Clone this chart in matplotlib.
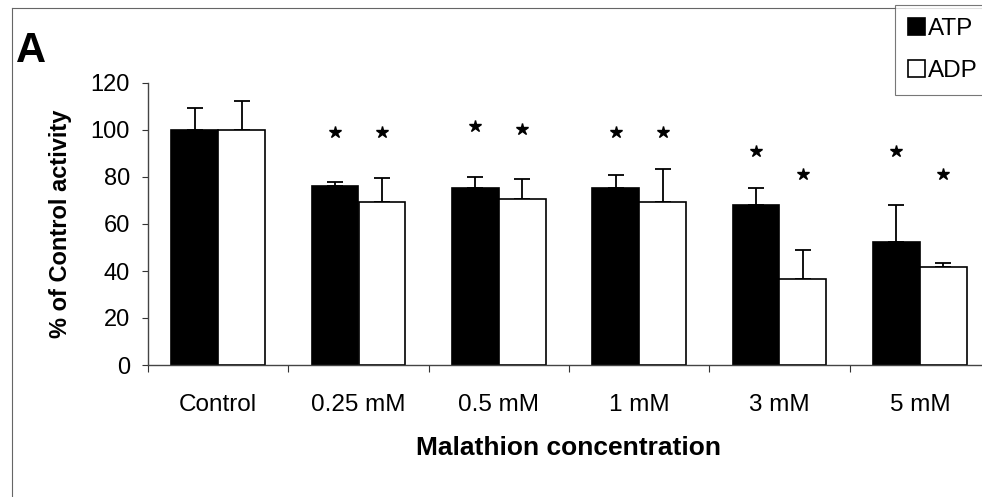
import matplotlib.pyplot as plt
import numpy as np

plt.rcParams['font.family'] = ['Liberation Sans', 'DejaVu Sans']

categories = ['Control', '0.25 mM', '0.5 mM', '1 mM', '3 mM', '5 mM']
atp = [100, 76, 75.5, 75.5, 68, 52.5]
adp = [100, 69.5, 70.5, 69.5, 36.5, 41.5]
atp_err = [9.5, 1.8, 4.3, 5.3, 7.2, 15.4]
adp_err = [12.3, 10.2, 8.5, 14, 12.3, 2]
# significance marks (height of the asterisk, None = no mark)
atp_star = [None, 99, 101.7, 99, 91, 91]
adp_star = [None, 99, 100.4, 99, 81.3, 81.3]
yticks = [0, 20, 40, 60, 80, 100, 120]

W, H = 982, 497
fig = plt.figure(figsize=(W / 100, H / 100), dpi=100)
ax = fig.add_axes([148 / W, 132 / H, 842 / W, 282 / H])

x = np.arange(len(categories)) + 0.5
bw = 1 / 3

ax.bar(x - bw / 2, atp, bw, color='black', edgecolor='black', linewidth=1.2,
       label='ATP', zorder=2)
ax.bar(x + bw / 2, adp, bw, color='white', edgecolor='black', linewidth=1.2,
       label='ADP', zorder=2)
ax.errorbar(x - bw / 2, atp, yerr=[np.zeros(len(atp)), atp_err], fmt='none',
            ecolor='black', elinewidth=1.3, capsize=6, capthick=1.3, zorder=1)
ax.errorbar(x + bw / 2, adp, yerr=[np.zeros(len(adp)), adp_err], fmt='none',
            ecolor='black', elinewidth=1.3, capsize=6, capthick=1.3, zorder=1)

for xi, ya, yd in zip(x, atp_star, adp_star):
    if ya is not None:
        ax.plot(xi - bw / 2, ya, marker='*', color='black', ms=9, clip_on=False)
    if yd is not None:
        ax.plot(xi + bw / 2, yd, marker='*', color='black', ms=9, clip_on=False)

ax.set_xlim(0, len(categories))
ax.set_ylim(0, 120)
ax.set_yticks(yticks)
ax.tick_params(axis='y', direction='out', length=4, width=0.8, pad=9,
               labelsize=17, colors='#333333', labelcolor='black')

# category labels sit between the boundary ticks
ax.set_xticks(np.arange(len(categories) + 1))
ax.set_xticklabels([])
ax.set_xticks(x, minor=True)
ax.set_xticklabels(categories, minor=True)
ax.tick_params(axis='x', which='major', direction='out', length=5, width=0.8,
               colors='#333333')
ax.tick_params(axis='x', which='minor', length=0, pad=21, labelsize=17.5)

for side in ['top', 'right']:
    ax.spines[side].set_visible(False)
for side in ['left', 'bottom']:
    ax.spines[side].set_color('#444444')
    ax.spines[side].set_linewidth(1)

ax.set_ylabel('% of Control activity', fontsize=17, fontweight='bold', va='center')
ax.yaxis.set_label_coords((60 - 148) / 842, 0.5)
ax.set_xlabel('Malathion concentration', fontsize=19, fontweight='bold', va='center')
ax.xaxis.set_label_coords(0.5, (365 - 448) / 282)

fig.text(16 / W, 1 - 62 / H, 'A', fontsize=30, fontweight='bold', va='baseline')

leg = fig.legend(loc='upper left', bbox_to_anchor=(895 / W, 1 - 5 / H),
                 fontsize=17.5, frameon=True, fancybox=False, handlelength=0.7,
                 handleheight=0.7, handletextpad=0.1, labelspacing=0.8,
                 borderpad=0.55, borderaxespad=0)
leg.get_frame().set_edgecolor('#555555')
leg.get_frame().set_linewidth(0.8)

# outer frame of the panel
fig.add_artist(plt.Line2D([12 / W, 1], [1 - 8 / H, 1 - 8 / H], color='#666666', lw=0.8))
fig.add_artist(plt.Line2D([12 / W, 12 / W], [0, 1 - 8 / H], color='#666666', lw=0.8))

fig.savefig('out.png', dpi=100)
